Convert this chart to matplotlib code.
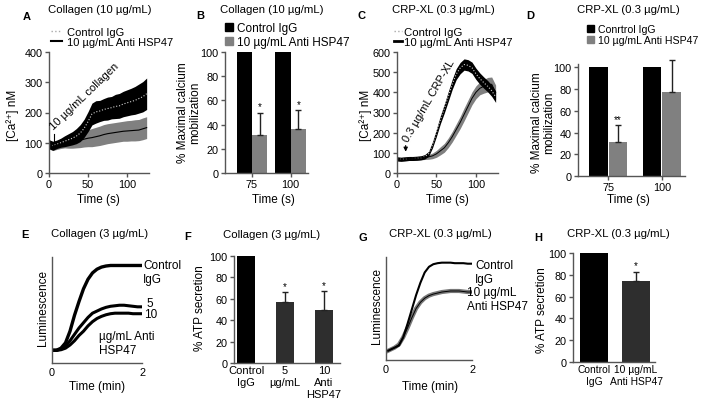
import matplotlib
matplotlib.use('Agg')
import matplotlib.pyplot as plt
from matplotlib.lines import Line2D
from matplotlib.patches import Patch
import numpy as np

plt.rcParams['font.family'] = ['Liberation Sans', 'DejaVu Sans']
plt.rcParams['font.size'] = 8

# ---- data ----
# A: collagen 10 ug/mL, [Ca2+] nM vs time (s)
t_a = [0, 5, 10, 15, 20, 25, 30, 35, 40, 45, 50, 55, 60, 65, 70, 75, 80, 85,
       90, 95, 100, 105, 110, 115, 120, 125]
ctrl_a = [95, 90, 95, 100, 105, 110, 115, 122, 132, 148, 170, 195, 202, 205,
          210, 213, 216, 220, 222, 228, 232, 236, 240, 246, 252, 262]
ctrl_a_err = [15, 15, 14, 15, 18, 20, 22, 25, 28, 30, 33, 36, 37, 35, 36, 38,
              37, 40, 41, 42, 43, 44, 46, 48, 50, 52]
anti_a = [95, 88, 92, 95, 98, 100, 102, 105, 108, 112, 115, 117, 120, 123,
          127, 130, 132, 134, 136, 138, 139, 140, 141, 142, 146, 150]
anti_a_err = [15, 14, 14, 14, 15, 18, 20, 22, 24, 26, 28, 30, 31, 32, 33, 33,
              33, 33, 33, 33, 34, 34, 35, 35, 36, 36]

# B: % maximal calcium mobilization
b_times = ['75', '100']
b_ctrl = [100, 100]
b_anti = [31, 36]
b_err = [19, 16]
b_sig = ['*', '*']

# C: CRP-XL 0.3 ug/mL
t_c = [0, 5, 10, 15, 20, 25, 30, 35, 40, 45, 50, 55, 60, 65, 70, 75, 80, 85,
       90, 95, 100, 105, 110, 115, 120, 125]
ctrl_c = [70, 68, 70, 72, 72, 73, 75, 80, 95, 140, 200, 265, 320, 380, 440,
          490, 520, 538, 534, 522, 492, 468, 448, 430, 408, 378]
ctrl_c_err = [10, 10, 10, 10, 10, 10, 10, 11, 12, 15, 18, 20, 22, 24, 25, 27,
              28, 28, 28, 28, 28, 28, 28, 28, 28, 28]
anti_c = [70, 68, 70, 72, 72, 73, 75, 78, 80, 85, 95, 110, 125, 150, 180, 215,
          250, 290, 330, 370, 400, 420, 430, 438, 440, 400]
anti_c_err = [10, 10, 10, 10, 10, 10, 10, 11, 12, 14, 17, 20, 22, 24, 26, 28,
              30, 32, 32, 32, 32, 32, 34, 36, 36, 36]

# D
d_times = ['75', '100']
d_ctrl = [100, 100]
d_anti = [31, 77]
d_err = [16, 30]
d_sig = ['**', '']

# E: luminescence (arbitrary), collagen 3 ug/mL
t_e = [0.05, 0.1, 0.2, 0.3, 0.4, 0.5, 0.6, 0.7, 0.8, 0.9, 1.0, 1.1, 1.2, 1.3,
       1.4, 1.5, 1.6, 1.7, 1.8, 1.9, 2.0]
ctrl_e = [0.12, 0.12, 0.14, 0.19, 0.30, 0.45, 0.58, 0.70, 0.79, 0.85, 0.885,
          0.905, 0.915, 0.92, 0.92, 0.92, 0.92, 0.92, 0.92, 0.92, 0.92]
five_e = [0.12, 0.12, 0.13, 0.16, 0.21, 0.27, 0.33, 0.38, 0.43, 0.47, 0.49,
          0.51, 0.525, 0.535, 0.54, 0.545, 0.545, 0.54, 0.535, 0.53, 0.53]
ten_e = [0.12, 0.12, 0.125, 0.14, 0.17, 0.21, 0.26, 0.30, 0.35, 0.39, 0.42,
         0.44, 0.455, 0.465, 0.47, 0.47, 0.47, 0.47, 0.465, 0.465, 0.465]

# F: % ATP secretion, collagen
f_labels = ['Control\nIgG', '5\nµg/mL', '10\nAnti\nHSP47']
f_vals = [100, 57, 50]
f_err = [0, 9, 17]
f_sig = ['', '*', '*']

# G: luminescence, CRP-XL
t_g = [0.05, 0.1, 0.2, 0.3, 0.4, 0.5, 0.6, 0.7, 0.8, 0.9, 1.0, 1.1, 1.2, 1.3,
       1.4, 1.5, 1.6, 1.7, 1.8, 1.9, 2.0]
ctrl_g = [0.09, 0.10, 0.12, 0.14, 0.22, 0.35, 0.49, 0.63, 0.75, 0.85, 0.905,
          0.93, 0.94, 0.945, 0.945, 0.945, 0.94, 0.94, 0.94, 0.935, 0.935]
anti_g = [0.09, 0.10, 0.12, 0.15, 0.22, 0.31, 0.41, 0.50, 0.56, 0.60, 0.625,
          0.64, 0.65, 0.66, 0.665, 0.67, 0.67, 0.67, 0.665, 0.66, 0.66]

# H
h_labels = ['Control\nIgG', '10 µg/mL\nAnti HSP47']
h_vals = [100, 74]
h_err = [0, 9]
h_sig = ['', '*']

W, H = 709, 410
AXC = '#555555'
GRAY = '#808080'
DARK = '#2e2e2e'

fig = plt.figure(figsize=(W / 100, H / 100), dpi=100)


def box(l, t, w, h):
    return [l / W, 1 - (t + h) / H, w / W, h / H]


def fp(x, y):
    return (x / W, 1 - y / H)


def ftext(x, y, s, **kw):
    fig.text(x / W, 1 - y / H, s, **kw)


def style(ax):
    for s in ['top', 'right']:
        ax.spines[s].set_visible(False)
    for s in ['left', 'bottom']:
        ax.spines[s].set_color(AXC)
        ax.spines[s].set_linewidth(1)
    ax.tick_params(colors=AXC, labelcolor='black', length=3, width=1,
                   labelsize=7.8, pad=1.5)


def band(ax, t, m, e, color):
    m = np.array(m)
    e = np.array(e)
    ax.fill_between(t, m - e, m + e, color=color, lw=0)


def bars_errs(ax, x, vals, errs, sig):
    for xi, v, er, s in zip(x, vals, errs, sig):
        if er > 0:
            ax.errorbar(xi, v, yerr=[[0], [er]], fmt='none', ecolor='#222222',
                        elinewidth=1, capsize=2.5, capthick=1, clip_on=False)
        if s:
            ax.text(xi, v + er + 1, s, ha='center', va='bottom', fontsize=7)


# ---------------- A ----------------
ax = fig.add_axes(box(49, 53, 100, 121))
band(ax, t_a, anti_a, anti_a_err, GRAY)
band(ax, t_a, ctrl_a, ctrl_a_err, 'black')
ax.plot(t_a, ctrl_a, color='#d0d0d0', ls=':', lw=0.8)
ax.plot(t_a, anti_a, color='black', lw=0.8)
ax.set_xlim(0, 128)
ax.set_ylim(0, 400)
ax.set_xticks([0, 50, 100])
ax.set_yticks([0, 100, 200, 300, 400])
ax.plot([6, 6], [100, 130], color='black', lw=0.8)
ax.text(8, 140, '10 µg/mL collagen', rotation=44, rotation_mode='anchor',
        ha='left', va='bottom', fontsize=8)
style(ax)
fig.legend([Line2D([], [], color='#aaaaaa', ls=':', lw=1),
            Line2D([], [], color='black', lw=1.5)],
           ['Control IgG', '10 µg/mL Anti HSP47'],
           loc='upper left', bbox_to_anchor=fp(51, 28), frameon=False,
           handlelength=1.0, handletextpad=0.4, labelspacing=0.02,
           borderpad=0, borderaxespad=0, fontsize=8)

# ---------------- B ----------------
ax = fig.add_axes(box(225, 53, 83, 121))
xb = np.arange(len(b_times))
ax.bar(xb - 0.2, b_ctrl, 0.4, color='black')
ax.bar(xb + 0.2, b_anti, 0.4, color=GRAY)
bars_errs(ax, xb + 0.2, b_anti, b_err, b_sig)
ax.set_xlim(-0.7, 1.45)
ax.set_ylim(0, 100)
ax.set_xticks(xb)
ax.set_xticklabels(b_times)
ax.set_yticks(range(0, 101, 20))
style(ax)
fig.legend([Patch(color='black'), Patch(color=GRAY)],
           ['Control IgG', '10 µg/mL Anti HSP47'],
           loc='upper left', bbox_to_anchor=fp(225, 23), frameon=False,
           handlelength=0.7, handleheight=0.7, handletextpad=0.3,
           labelspacing=0.15, borderpad=0, borderaxespad=0, fontsize=8.5)

# ---------------- C ----------------
ax = fig.add_axes(box(397, 53, 101, 121))
band(ax, t_c, anti_c, anti_c_err, GRAY)
band(ax, t_c, ctrl_c, ctrl_c_err, 'black')
ax.plot(t_c, ctrl_c, color='#d0d0d0', ls=':', lw=0.8)
ax.plot(t_c, anti_c, color='black', lw=0.7)
ax.set_xlim(0, 128)
ax.set_ylim(0, 600)
ax.set_xticks([0, 50, 100])
ax.set_yticks(range(0, 601, 100))
ax.annotate('', xy=(11, 92), xytext=(11, 150),
            arrowprops=dict(arrowstyle='-|>', color='black', lw=0.8,
                            mutation_scale=6))
ax.text(16, 148, '0.3 µg/mL CRP-XL', rotation=60, rotation_mode='anchor',
        ha='left', va='bottom', fontsize=8)
style(ax)
fig.legend([Line2D([], [], color='#aaaaaa', ls=':', lw=1),
            Line2D([], [], color='black', lw=2)],
           ['Control IgG', '10 µg/mL Anti HSP47'],
           loc='upper left', bbox_to_anchor=fp(394, 28), frameon=False,
           handlelength=0.7, handletextpad=0.15, labelspacing=0.02,
           borderpad=0, borderaxespad=0, fontsize=8.2)

# ---------------- D ----------------
ax = fig.add_axes(box(578, 65, 107, 112))
xd = np.arange(len(d_times))
ax.bar(xd - 0.18, d_ctrl, 0.34, color='black')
ax.bar(xd + 0.18, d_anti, 0.34, color=GRAY)
bars_errs(ax, xd + 0.18, d_anti, d_err, d_sig)
ax.set_xlim(-0.56, 1.43)
ax.set_ylim(0, 103)
ax.set_xticks(xd)
ax.set_xticklabels(d_times)
ax.set_yticks(range(0, 101, 20))
style(ax)
fig.legend([Patch(color='black'), Patch(color=GRAY)],
           ['Conrtrol IgG', '10 µg/mL Anti HSP47'],
           loc='upper left', bbox_to_anchor=fp(587, 25), frameon=False,
           handlelength=0.7, handleheight=0.7, handletextpad=0.3,
           labelspacing=0.12, borderpad=0, borderaxespad=0, fontsize=7.6)

# ---------------- E ----------------
ax = fig.add_axes(box(52, 258, 90, 106))
ax.plot(t_e, ctrl_e, color='black', lw=2.4)
ax.plot(t_e, five_e, color='black', lw=2.2)
ax.plot(t_e, ten_e, color='black', lw=2.2)
ax.set_xlim(0, 2)
ax.set_ylim(0, 1)
ax.set_xticks([0, 2])
ax.set_yticks([])
style(ax)
ax.tick_params(axis='x', length=0, pad=3)
ftext(143, 260, 'Control\nIgG', ha='left', va='top', fontsize=8.5,
      linespacing=1.25)
ftext(146, 304, '5', ha='left', va='center', fontsize=8.5)
ftext(144, 315, '10', ha='left', va='center', fontsize=8.5)
ftext(99, 331, 'µg/mL Anti\nHSP47', ha='left', va='top', fontsize=8.5,
      linespacing=1.25)

# ---------------- F ----------------
ax = fig.add_axes(box(234, 257, 106, 107))
xf = np.arange(len(f_vals))
ax.bar(xf, f_vals, 0.47, color=['black', DARK, DARK])
bars_errs(ax, xf, f_vals, f_err, f_sig)
ax.set_xlim(-0.31, 2.41)
ax.set_ylim(0, 100)
ax.set_xticks(xf)
ax.set_xticklabels(f_labels, va='top', linespacing=1.25)
ax.set_yticks(range(0, 101, 20))
style(ax)
ax.tick_params(axis='x', length=0, labelsize=8)

# ---------------- G ----------------
ax = fig.add_axes(box(386, 258, 86, 103))
ax.plot(t_g, anti_g, color='#777777', lw=3)
ax.plot(t_g, anti_g, color='black', lw=0.7)
ax.plot(t_g, ctrl_g, color='black', lw=1.5)
ax.set_xlim(0, 2)
ax.set_ylim(0, 1)
ax.set_xticks([0, 2])
ax.set_yticks([])
style(ax)
ax.tick_params(axis='x', length=0, pad=3)
ftext(475, 260, 'Control\nIgG', ha='left', va='top', fontsize=8.5,
      linespacing=1.25)
ftext(467, 287, '10 µg/mL\nAnti HSP47', ha='left', va='top', fontsize=8.5,
      linespacing=1.2)

# ---------------- H ----------------
ax = fig.add_axes(box(573, 254, 82, 109))
xh = np.arange(len(h_vals))
ax.bar(xh, h_vals, 0.67, color=['black', DARK])
bars_errs(ax, xh, h_vals, h_err, h_sig)
ax.set_xlim(-0.5, 1.45)
ax.set_ylim(0, 100)
ax.set_xticks(xh)
ax.set_xticklabels(h_labels, va='top', linespacing=1.25)
ax.set_yticks(range(0, 101, 20))
style(ax)
ax.tick_params(axis='x', length=0, labelsize=7.4)

# ---- titles, panel letters, axis labels ----
titles = [(100, 10, 'Collagen (10 µg/mL)'), (272, 10, 'Collagen (10 µg/mL)'),
          (443, 10, 'CRP-XL (0.3 µg/mL)'), (628, 10, 'CRP-XL (0.3 µg/mL)'),
          (100, 234, 'Collagen (3 µg/mL)'), (272, 235, 'Collagen (3 µg/mL)'),
          (440, 234, 'CRP-XL (0.3 µg/mL)'), (618, 234, 'CRP-XL (0.3 µg/mL)')]
for x, y, s in titles:
    ftext(x, y, s, ha='center', va='center', fontsize=8.2)

letters = [(27, 17, 'A'), (200, 16, 'B'), (362, 16, 'C'), (530, 16, 'D'),
           (25, 235, 'E'), (188, 237, 'F'), (363, 238, 'G'), (538, 238, 'H')]
for x, y, s in letters:
    ftext(x, y, s, ha='center', va='center', fontsize=8, fontweight='bold')

ylabels = [(13, 115, '[Ca²⁺] nM'), (189, 113, '% Maximal calcium\nmobilization'),
           (366, 115, '[Ca²⁺] nM'), (543, 123, '% Maximal calcium\nmobilization'),
           (43, 308, 'Luminescence'), (200, 308, '% ATP secretion'),
           (377, 306, 'Luminescence'), (542, 310, '% ATP secretion')]
for x, y, s in ylabels:
    ftext(x, y, s, ha='center', va='center', rotation=90, fontsize=8.5,
          linespacing=1.1)

xlabels = [(98, 200, 'Time (s)'), (273, 200, 'Time (s)'), (447, 200, 'Time (s)'),
           (628, 200, 'Time (s)'), (97, 387, 'Time (min)'),
           (430, 387, 'Time (min)')]
for x, y, s in xlabels:
    ftext(x, y, s, ha='center', va='center', fontsize=8.5)

fig.savefig('out.png', dpi=100)
